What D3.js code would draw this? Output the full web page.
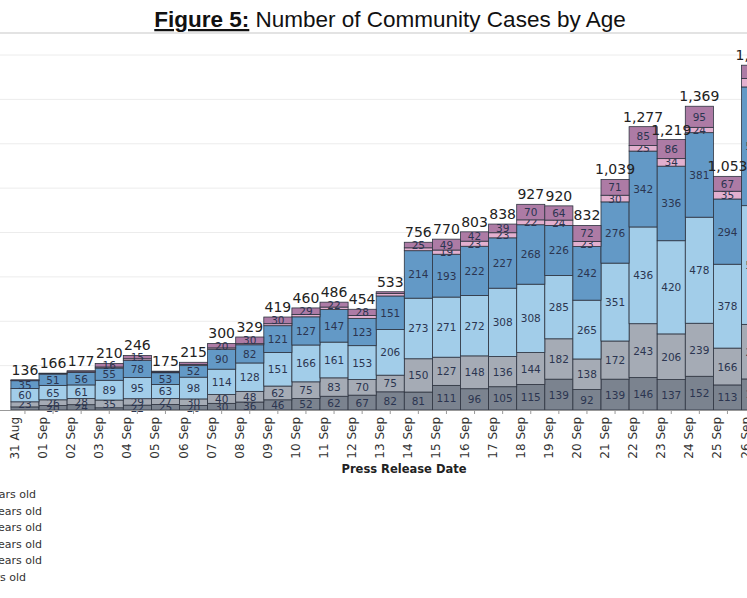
<!DOCTYPE html>
<html><head><meta charset="utf-8">
<script src="https://cdn.jsdelivr.net/npm/d3@7"></script>
<style>body{margin:0;background:#fff;overflow:hidden}svg{display:block}</style>
</head><body>
<script>
// Data
const dates = ['30 Aug','31 Aug','01 Sep','02 Sep','03 Sep','04 Sep','05 Sep','06 Sep','07 Sep','08 Sep','09 Sep','10 Sep','11 Sep','12 Sep','13 Sep','14 Sep','15 Sep','16 Sep','17 Sep','18 Sep','19 Sep','20 Sep','21 Sep','22 Sep','23 Sep','24 Sep','25 Sep','26 Sep'];
const legendLabels = ['0-11 years old','12-19 years old','20-39 years old','40-59 years old','60-69 years old','70+ years old'];
const g0 = [0,14,20,24,10,22,25,20,30,36,46,52,62,67,82,81,111,96,105,115,139,92,139,146,137,152,113,140];
const g1 = [0,23,26,28,35,29,27,30,40,48,62,75,83,70,75,150,127,148,136,144,182,138,172,243,206,239,166,246];
const g2 = [0,60,65,61,89,95,63,98,114,128,151,166,161,153,206,273,271,272,308,308,285,265,351,436,420,478,378,535];
const g3 = [0,35,51,56,55,78,53,52,90,82,121,127,147,123,151,214,193,222,227,268,226,242,276,342,336,381,294,535];
const g4 = [0,2,2,3,5,7,3,5,6,5,9,11,11,13,11,13,19,23,23,22,24,23,30,25,34,24,35,38];
const g5 = [0,2,2,5,16,15,4,10,20,30,30,29,22,28,8,25,49,42,39,70,64,72,71,85,86,95,67,60];
const series = [g0,g1,g2,g3,g4,g5];
const colors = ['#7b838f','#a5abb5','#a2cde9','#6399c6','#e3b0cf','#ad7ba5'];

const W = 747, H = 598, base = 410;
const font = 'DejaVu Sans, sans-serif';
const svg = d3.select('body').append('svg').attr('width', W).attr('height', H);

const rows = dates.map((d, i) => {
  const r = {date: d};
  series.forEach((s, k) => r['k' + k] = s[i]);
  return r;
});
const stack = d3.stack().keys(series.map((s, k) => 'k' + k))(rows);

const x = d3.scaleBand().domain(dates).range([-17.2, -17.2 + dates.length * 28.1]).padding(0);
const y = d3.scaleLinear().domain([0, 1600]).range([base, base - 355]);

// title
const t = svg.append('text').attr('x', 390).attr('y', 27).attr('text-anchor', 'middle')
  .attr('font-family', 'Liberation Sans, Arial, sans-serif').attr('font-size', 22.5).attr('fill', '#111');
t.append('tspan').attr('font-weight', 'bold').attr('text-decoration', 'underline').text('Figure 5:');
t.append('tspan').text(' Number of Community Cases by Age');
svg.append('line').attr('x1', 0).attr('x2', W).attr('y1', 33).attr('y2', 33).attr('stroke', '#e3e3e3').attr('stroke-width', 2);

// gridlines
svg.append('g').selectAll('line').data(y.ticks(8).filter(v => v > 0)).join('line')
  .attr('x1', 0).attr('x2', W).attr('y1', d => y(d)).attr('y2', d => y(d))
  .attr('stroke', '#ececec');

// bars
const layer = svg.append('g').selectAll('g').data(stack).join('g').attr('fill', (d, i) => colors[i]);
layer.selectAll('rect').data(d => d).join('rect')
  .attr('x', d => x(d.data.date)).attr('width', x.bandwidth())
  .attr('y', d => y(d[1])).attr('height', d => y(d[0]) - y(d[1]))
  .attr('stroke', '#2e3440').attr('stroke-width', 0.8);

// segment labels
layer.selectAll('text').data(d => d).join('text')
  .filter(d => d[1] - d[0] >= 15)
  .attr('x', d => x(d.data.date) + x.bandwidth() / 2)
  .attr('y', d => (y(d[0]) + y(d[1])) / 2 + 4)
  .attr('text-anchor', 'middle').attr('font-family', font)
  .attr('font-size', 10.5).attr('fill', '#2b3550')
  .text(d => d[1] - d[0]);

// totals
const totals = rows.map((r, i) => ({date: r.date, v: d3.sum(series, s => s[i])}));
svg.append('g').selectAll('text').data(totals.filter(d => d.v > 0)).join('text')
  .attr('x', d => x(d.date) + x.bandwidth() / 2).attr('y', d => y(d.v) - 5)
  .attr('text-anchor', 'middle').attr('font-family', font)
  .attr('font-size', 14).attr('fill', '#222')
  .text(d => d3.format(',')(d.v));

// x axis
const xa = svg.append('g').attr('transform', `translate(0,${base})`)
  .call(d3.axisBottom(x).tickSize(4).tickSizeOuter(0));
xa.select('.domain').attr('stroke', '#999');
xa.selectAll('line').attr('stroke', '#999');
xa.selectAll('text').attr('transform', 'rotate(-90)').attr('text-anchor', 'end')
  .attr('x', -7).attr('y', -6).attr('dy', 0)
  .attr('font-family', font).attr('font-size', 12).attr('fill', '#333');
svg.append('text').attr('x', 404).attr('y', 473).attr('text-anchor', 'middle')
  .attr('font-family', font).attr('font-weight', 'bold')
  .attr('font-size', 11.5).attr('fill', '#222').text('Press Release Date');

// legend (cut off at the left edge)
svg.append('g').selectAll('text').data(legendLabels).join('text')
  .attr('x', (d, i) => [36, 42, 42, 42, 42, 26][i]).attr('y', (d, i) => 498 + i * 16.6)
  .attr('text-anchor', 'end').attr('font-family', font)
  .attr('font-size', 11).attr('fill', '#333').text(d => d);
</script>
</body></html>
